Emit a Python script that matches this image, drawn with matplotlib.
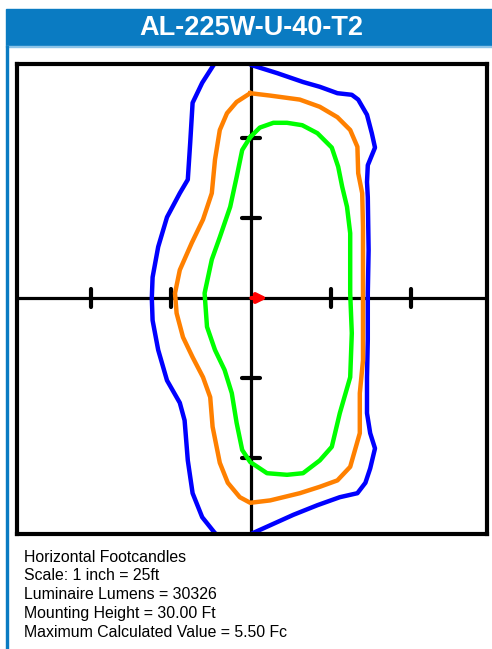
import matplotlib.pyplot as plt
from matplotlib.patches import Rectangle

plt.rcParams['font.family'] = ['Liberation Sans', 'DejaVu Sans']

title = "AL-225W-U-40-T2"
info_lines = [
    "Horizontal Footcandles",
    "Scale: 1 inch = 25ft",
    "Luminaire Lumens = 30326",
    "Mounting Height = 30.00 Ft",
    "Maximum Calculated Value = 5.50 Fc",
]

# grid ticks, in mounting heights
tick_pos = [-2, -1, 1, 2]

# isofootcandle contours (x, y in mounting heights)
blue_x = [-0.22, 0.01, 0.33, 0.65, 0.86, 1.08, 1.26, 1.34, 1.45, 1.51, 1.55, 1.46, 1.45, 1.46,
          1.47, 1.46, 1.46, 1.45, 1.45, 1.49, 1.55, 1.49, 1.43, 1.33, 1.11, 0.83, 0.53, 0.02,
          -0.21, -0.45, -0.61, -0.73, -0.79, -0.83, -0.89, -1.05, -1.16, -1.23, -1.24, -1.23,
          -1.16, -1.05, -0.89, -0.79, -0.76, -0.73, -0.61, -0.45, -0.22]
blue_y = [3.04, 2.91, 2.81, 2.70, 2.64, 2.56, 2.54, 2.48, 2.29, 2.06, 1.88, 1.66, 1.45, 1.26,
          0.60, 0.06, -0.52, -0.99, -1.44, -1.69, -1.88, -2.13, -2.31, -2.44, -2.49, -2.59, -2.71, -2.94,
          -3.09, -2.94, -2.74, -2.44, -2.03, -1.53, -1.31, -1.03, -0.65, -0.28, 0.00, 0.26,
          0.64, 1.01, 1.31, 1.48, 1.94, 2.44, 2.69, 2.94, 3.04]

orange_x = [-0.01, 0.24, 0.61, 0.86, 1.08, 1.24, 1.33, 1.34, 1.39, 1.40, 1.40, 1.40, 1.36, 1.36,
            1.24, 1.08, 0.86, 0.61, 0.24, -0.01, -0.14, -0.29, -0.39, -0.48, -0.51, -0.60, -0.73,
            -0.85, -0.93, -0.95, -0.89, -0.74, -0.60, -0.49, -0.45, -0.39, -0.30, -0.18, -0.01]
orange_y = [2.56, 2.53, 2.48, 2.39, 2.26, 2.10, 1.89, 1.56, 1.31, 0.89, 0.06, -0.78, -1.19, -1.69,
            -2.11, -2.28, -2.36, -2.44, -2.53, -2.56, -2.49, -2.31, -2.06, -1.61, -1.24, -0.99, -0.74,
            -0.49, -0.19, 0.06, 0.35, 0.69, 0.98, 1.31, 1.73, 2.10, 2.31, 2.45, 2.56]

green_x = [-0.01, 0.11, 0.28, 0.45, 0.64, 0.83, 1.01, 1.09, 1.14, 1.20, 1.24, 1.24, 1.26, 1.24,
           1.11, 1.01, 0.86, 0.65, 0.45, 0.20, -0.01, -0.11, -0.18, -0.24, -0.33, -0.45, -0.55,
           -0.58, -0.49, -0.39, -0.26, -0.18, -0.11, -0.01]
green_y = [2.01, 2.13, 2.19, 2.19, 2.16, 2.06, 1.88, 1.64, 1.39, 1.14, 0.81, 0.06, -0.44, -0.99,
           -1.44, -1.86, -2.03, -2.19, -2.21, -2.19, -2.05, -1.90, -1.56, -1.19, -0.90, -0.65, -0.36,
           0.06, 0.48, 0.76, 1.14, 1.51, 1.85, 2.01]

W, H = 492, 649
fig = plt.figure(figsize=(W / 100, H / 100), dpi=100)

# header bar and left frame line
bar_blue = '#0A7BC2'
fig.patches.append(Rectangle((6 / W, 1 - 46 / H), 1 - 6 / W, 37 / H,
                             transform=fig.transFigure, color=bar_blue, zorder=0))
fig.patches.append(Rectangle((6 / W, 1 - 47 / H), 1 - 6 / W, 1 / H,
                             transform=fig.transFigure, color='#8CC4E8', zorder=0))
fig.patches.append(Rectangle((6 / W, 0), 2 / W, 1 - 46 / H,
                             transform=fig.transFigure, color=bar_blue, zorder=0))
fig.text(251 / W, 1 - 28 / H, title, color='white', fontsize=19.5, fontweight='bold',
         ha='center', va='center')

ax = fig.add_axes([17 / W, 1 - 534 / H, 470 / W, 470 / H])
ax.set_xlim(-2.925, 2.95)
ax.set_ylim(-2.95, 2.925)
for s in ax.spines.values():
    s.set_linewidth(3)
    s.set_zorder(5)
ax.set_xticks([])
ax.set_yticks([])

# axes cross and tick bars
ax.axhline(0, color='black', lw=2.3, zorder=2)
ax.axvline(0, color='black', lw=2.3, zorder=2)
for t in tick_pos:
    ax.plot([t, t], [-0.11, 0.11], color='black', lw=3, solid_capstyle='round', zorder=2)
    ax.plot([-0.11, 0.11], [t, t], color='black', lw=3, solid_capstyle='round', zorder=2)

ax.plot(blue_x, blue_y, color='#0000FF', lw=3.2, zorder=3)
ax.plot(orange_x, orange_y, color='#FF8000', lw=3.2, zorder=3)
ax.plot(green_x, green_y, color='#00FF00', lw=3.2, zorder=3)

# luminaire aim arrow
ax.annotate('', xy=(0.24, 0), xytext=(-0.03, 0),
            arrowprops=dict(arrowstyle='-|>', color='red', lw=3, mutation_scale=14),
            zorder=4)

for i, line in enumerate(info_lines):
    fig.text(24 / W, 1 - (557 + i * 18.8) / H, line, fontsize=11.4, ha='left', va='center')

fig.savefig('out.png', dpi=100)
